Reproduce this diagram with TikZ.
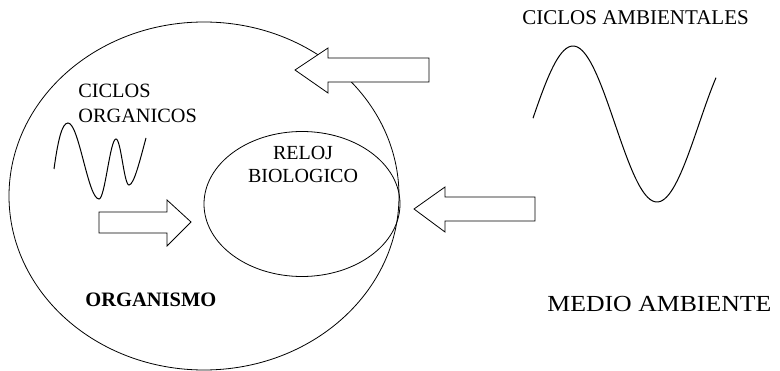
\documentclass[tikz,border=0pt]{standalone}
\usepackage{fontspec}
\setmainfont{Liberation Serif}
\usetikzlibrary{shapes.geometric}
\begin{document}
\begin{tikzpicture}[x=1pt,y=-1pt, line width=0.8pt,
  lbl/.style={inner sep=0pt, font=\fontsize{20.3}{25}\selectfont},
  oval/.style={draw, ellipse, inner sep=0pt},
  bigarrow/.style={draw, fill=white, line join=miter},
  wave/.style={draw, line width=1pt}]
\useasboundingbox (0,0) rectangle (780,371);
% organism and clock
\node (organismo) [oval, minimum width=390, minimum height=348] at (204,196) {};
\node (reloj) [oval, minimum width=196, minimum height=145] at (302,204) {};
% labels
\node (cicorg) [lbl, anchor=north west, align=left] at (78,84) {CICLOS\\ORGANICOS};
\node (relojtxt) [lbl, anchor=north, align=center, font=\fontsize{20}{23}\selectfont] at (303,146) {RELOJ\\BIOLOGICO};
\node (orgtxt) [lbl, anchor=base west, font=\fontsize{20.5}{24}\selectfont\bfseries] at (85,307) {ORGANISMO};
\node (cicamb) [lbl, anchor=base west, font=\fontsize{21}{24}\selectfont] at (522,25) {CICLOS AMBIENTALES};
\node (medio) [lbl, anchor=base west, font=\fontsize{23}{27}\selectfont] at (547,312) {\scalebox{1.12}[1]{MEDIO AMBIENTE}};
% organic cycles wave
\draw[wave] (54,169) .. controls (58,140) and (62,123) .. (68,123)
  .. controls (79,123) and (88,199) .. (99,199)
  .. controls (105,199) and (110,139) .. (116,139)
  .. controls (121,139) and (124,185) .. (129,185)
  .. controls (134,185) and (140,160) .. (146,138);
% environmental cycles wave
\draw[wave] plot[domain=533:716, samples=90] (\x, {124-78*sin((\x-531)/84*180)});
% arrows
\draw[bigarrow] (295,70) -- (328,48) -- (328,58) -- (429,58) -- (429,82) -- (328,82) -- (328,93) -- cycle;
\draw[bigarrow] (414,209) -- (445,187) -- (445,197) -- (535,197) -- (535,221) -- (445,221) -- (445,232) -- cycle;
\draw[bigarrow] (191,222) -- (167,200) -- (167,212) -- (99,212) -- (99,233) -- (167,233) -- (167,246) -- cycle;
\end{tikzpicture}
\end{document}
